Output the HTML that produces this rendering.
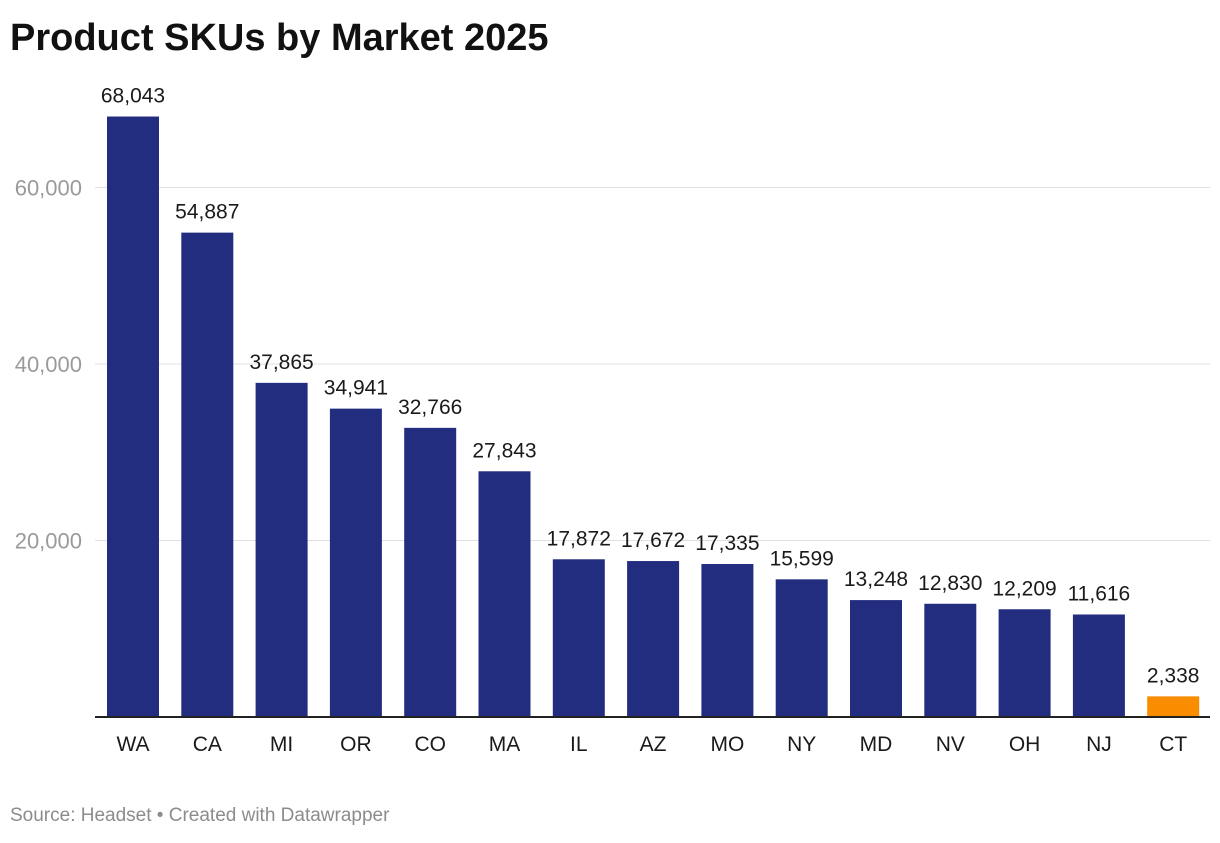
<!DOCTYPE html>
<html><head><meta charset="utf-8"><style>
body{margin:0;background:#fff;width:1220px;height:838px;overflow:hidden;font-family:"Liberation Sans",sans-serif}
</style></head><body>
<svg width="1220" height="838">
<text x="10" y="50" font-size="38" font-weight="bold" fill="#111">Product SKUs by Market 2025</text>
<g id="grid"></g><g id="bars"></g>
<text x="10" y="821" font-size="19" fill="#8c8c8c">Source: Headset • Created with Datawrapper</text>
</svg>
<script>
const categories=["WA","CA","MI","OR","CO","MA","IL","AZ","MO","NY","MD","NV","OH","NJ","CT"];
const values=[68043,54887,37865,34941,32766,27843,17872,17672,17335,15599,13248,12830,12209,11616,2338];
const ticks=[20000,40000,60000];
const tickLabels=["20,000","40,000","60,000"];
const NS="http://www.w3.org/2000/svg";
const y0=717, pxPer=176.5/20000;
const y=v=>y0-v*pxPer;
const x=i=>107+i*74.3;
const bw=52;
function mk(tag,attrs,parent){const e=document.createElementNS(NS,tag);for(const k in attrs)e.setAttribute(k,attrs[k]);parent.appendChild(e);return e;}
const grid=document.getElementById('grid'),bars=document.getElementById('bars');
ticks.forEach((t,i)=>{
 const l=mk('line',{x1:95,x2:1210,y1:y(t),y2:y(t),stroke:'#e0e0e0','stroke-width':1},grid);
 
 
 const tx=mk('text',{x:82,y:y(t)+8,'text-anchor':'end','font-size':22,fill:'#9a9a9a'},grid);
 tx.textContent=tickLabels[i];
 
 
});
values.forEach((v,i)=>{
 const r=mk('rect',{x:x(i),y:y(v),width:bw,height:y0-y(v),fill:i===values.length-1?'#fa8c00':'#232d80'},bars);
 
 
 const t=mk('text',{x:x(i)+bw/2,y:y(v)-14,'text-anchor':'middle','font-size':21,fill:'#1a1a1a'},bars);
 t.textContent=v.toLocaleString('en-US');
 
 
 const c=mk('text',{x:x(i)+bw/2,y:751,'text-anchor':'middle','font-size':21,fill:'#1a1a1a'},bars);
 c.textContent=categories[i];
 
 
});
const ax=mk('line',{x1:95,x2:1210,y1:y0,y2:y0,stroke:'#222','stroke-width':2},bars);


</script>
</body></html>
